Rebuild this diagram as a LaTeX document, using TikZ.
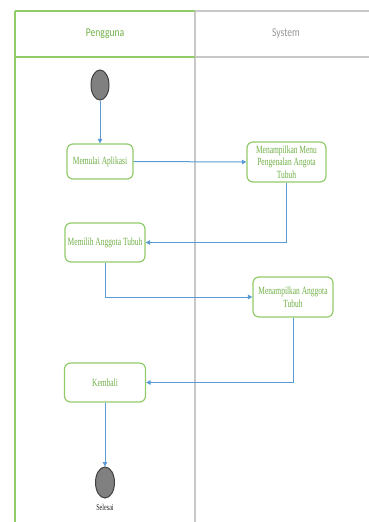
\documentclass[tikz,border=0pt]{standalone}
\usepackage{fontspec}
\usetikzlibrary{shapes.geometric,arrows.meta}
\newfontfamily\boxfont{Liberation Serif}[FakeStretch=0.68]
\newfontfamily\headfont{Carlito}[FakeStretch=0.8]
\definecolor{lanegreen}{RGB}{146,204,106}
\definecolor{textgreen}{RGB}{112,176,70}
\definecolor{lanegray}{RGB}{200,200,200}
\definecolor{headgray}{RGB}{150,150,150}
\definecolor{flowblue}{RGB}{91,155,213}
\begin{document}
\begin{tikzpicture}[x=1pt,y=-1pt,
  actbox/.style={draw=lanegreen,line width=1.2pt,rounded corners=6pt,fill=white,
    inner sep=0pt,align=center,text=textgreen,
    font=\boxfont\fontsize{11}{12.5}\selectfont},
  endpt/.style={ellipse,draw=black!75,line width=1pt,fill=black!50,inner sep=0pt},
  flow/.style={draw=flowblue,line width=1pt,-{Triangle[width=4.5pt,length=4.5pt]}},
  lanegreenline/.style={draw=lanegreen,line width=1.4pt},
  lanegrayline/.style={draw=lanegray,line width=1.4pt}]
\useasboundingbox (0,0) rectangle (369,522);
% swimlanes
\draw[lanegrayline] (195,11) -- (369,11);
\draw[lanegrayline] (195,57) -- (369,57);
\draw[lanegrayline] (195,11) -- (195,522);
\draw[lanegreenline] (15,11) -- (195,11);
\draw[lanegreenline] (15,57) -- (195,57);
\draw[lanegreenline] (15,11) -- (15,522);
\node[font=\headfont\fontsize{12}{14}\selectfont,text=textgreen] (hp) at (105,34) {Pengguna};
\node[font=\headfont\fontsize{12}{14}\selectfont,text=headgray] (hs) at (286,34) {System};
% nodes
\node[endpt,minimum width=18pt,minimum height=30pt] (start) at (100,85) {};
\node[actbox,minimum width=66pt,minimum height=35pt] (a1) at (100,161.5) {Memulai Aplikasi};
\node[actbox,minimum width=79pt,minimum height=40pt] (s1) at (286.5,162) {Menampilkan Menu\\Pengenalan Angota\\Tubuh};
\node[actbox,minimum width=80pt,minimum height=39pt] (a2) at (105,242.5) {Memilih Anggota Tubuh};
\node[actbox,minimum width=80pt,minimum height=40pt] (s2) at (293,297) {Menampilkan Anggota\\Tubuh};
\node[actbox,minimum width=81pt,minimum height=39pt] (a3) at (105,382.5) {Kembali};
\node[endpt,minimum width=19pt,minimum height=31pt] (end) at (105,482.5) {};
\node[font=\boxfont\fontsize{9}{10}\selectfont,text=black!85] (lbl) at (105,507) {Selesai};
% connectors
\draw[flow] (start.south) -- (a1.north);
\draw[flow] (a1.east) -- (s1.west);
\draw[flow] (s1.south) |- (a2.east);
\draw[flow] (a2.south) |- (s2.west);
\draw[flow] (s2.south) |- (a3.east);
\draw[flow] (a3.south) -- (end.north);
\end{tikzpicture}
\end{document}
